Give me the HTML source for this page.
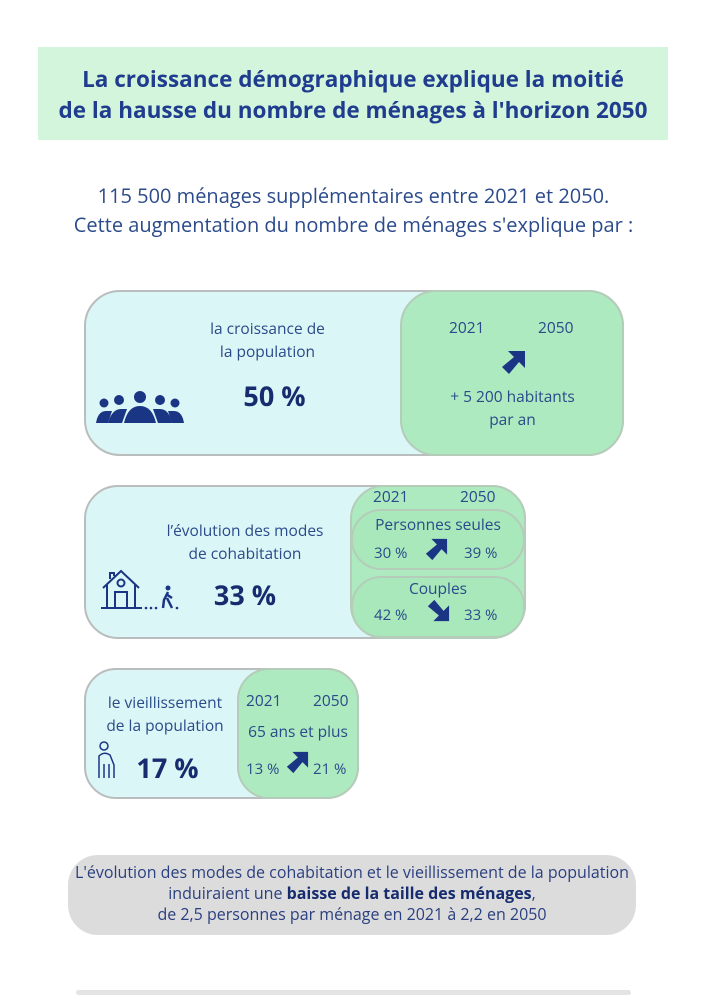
<!DOCTYPE html>
<html><head><meta charset="utf-8"><style>
body{margin:0;width:707px;height:1000px;background:#fff;position:relative;font-family:"Open Sans","Liberation Sans",sans-serif;color:#2a4a8a;overflow:hidden}
.a{position:absolute}
.c{text-align:center}
.card{position:absolute;background:#dbf6f6;border:2px solid #b9bdbd;box-sizing:border-box}
.g{position:absolute;background:#aeeac0;border:2px solid #b4ccb9;box-sizing:border-box}
.big{font-weight:bold;color:#162c6e}
</style></head><body>
<div class="a c" style="left:38px;top:47px;width:630px;height:93px;background:#d3f5dc;color:#1f3c8e;font-weight:bold;font-size:22.5px;line-height:31px;padding-top:16px;box-sizing:border-box;white-space:nowrap">La croissance démographique explique la moitié<br>de la hausse du nombre de ménages à l'horizon 2050</div>
<div class="a c" style="left:0;width:707px;top:181px;font-size:20px;line-height:29px;color:#2a4a8a;white-space:nowrap">115 500 ménages supplémentaires entre 2021 et 2050.<br>Cette augmentation du nombre de ménages s'explique par :</div>

<!-- card1 -->
<div class="card" style="left:84px;top:290px;width:540px;height:166px;border-radius:36px"></div>
<div class="g" style="left:400px;top:290px;width:224px;height:166px;border-radius:36px"></div>
<div class="a c" style="left:185px;top:317px;width:165px;font-size:15.5px;line-height:23px">la croissance de<br>la population</div>
<div class="a c big" style="left:192px;top:377px;width:165px;font-size:27px">50 %</div>
<svg class="a" style="left:94px;top:390px" width="92" height="35" viewBox="0 0 92 35">
<g fill="#1b3585"><circle cx="10" cy="13" r="4.5"/><circle cx="25" cy="10" r="5"/><circle cx="46" cy="7" r="6"/><circle cx="66" cy="10" r="5"/><circle cx="81" cy="13" r="4.5"/>
<path d="M2 33 Q4 21 12 21 L18 21 L14 33Z"/><path d="M14 33 Q18 19 27 19 L33 19 L28 33Z"/><path d="M30 33 Q34 16 46 16 Q58 16 62 33Z"/><path d="M64 33 L59 19 L66 19 Q75 19 78 33Z"/><path d="M78 33 L74 21 L80 21 Q88 21 90 33Z"/></g></svg>
<div class="a" style="left:449px;top:316px;font-size:15.5px">2021</div>
<div class="a" style="left:538px;top:316px;font-size:15.5px">2050</div>
<svg class="a" style="left:500px;top:350px" width="26" height="26" viewBox="0 0 26 26"><path d="M25 1 L25 18 L19 12 L9 24 L2 17 L14 7 L8 1Z" fill="#1b3585"/></svg>
<div class="a c" style="left:425px;top:385px;width:175px;font-size:15.5px;line-height:23px">+ 5 200 habitants<br>par an</div>

<!-- card2 -->
<div class="card" style="left:84px;top:485px;width:442px;height:154px;border-radius:34px"></div>
<div class="g" style="left:350px;top:485px;width:176px;height:154px;border-radius:34px"></div>
<div class="g" style="left:351px;top:509px;width:174px;height:61px;border-radius:30px;background:#a8e8bb"></div>
<div class="g" style="left:351px;top:576px;width:174px;height:62px;border-radius:30px;background:#a8e8bb"></div>
<div class="a" style="left:373px;top:485px;font-size:15.5px">2021</div>
<div class="a" style="left:460px;top:485px;font-size:15.5px">2050</div>
<div class="a c" style="left:351px;top:513px;width:174px;font-size:15.5px">Personnes seules</div>
<div class="a" style="left:374px;top:543px;font-size:15px">30 %</div>
<div class="a" style="left:464px;top:543px;font-size:15px">39 %</div>
<svg class="a" style="left:424px;top:538px" width="24" height="24" viewBox="0 0 26 26"><path d="M25 1 L25 18 L19 12 L9 24 L2 17 L14 7 L8 1Z" fill="#1b3585"/></svg>
<div class="a c" style="left:351px;top:577px;width:174px;font-size:15.5px">Couples</div>
<div class="a" style="left:374px;top:605px;font-size:15px">42 %</div>
<div class="a" style="left:464px;top:605px;font-size:15px">33 %</div>
<svg class="a" style="left:426px;top:598px" width="24" height="24" viewBox="0 0 26 26"><path d="M25 25 L25 8 L19 14 L9 2 L2 9 L14 19 L8 25Z" fill="#1b3585"/></svg>
<div class="a c" style="left:150px;top:519px;width:190px;font-size:15.5px;line-height:23px">l’évolution des modes<br>de cohabitation</div>
<div class="a c big" style="left:190px;top:576px;width:110px;font-size:27px">33 %</div>
<svg class="a" style="left:100px;top:568px" width="82" height="44" viewBox="0 0 82 44"><g fill="none" stroke="#1b3585" stroke-width="2"><path d="M1 40 L42 40"/><path d="M3 20 L21 3 L39 20"/><path d="M7 17 L7 40 M35 17 L35 40"/><rect x="15" y="24" width="12" height="16"/><circle cx="21" cy="15" r="3.5"/><path d="M10 11 L10 5 L14 5 L14 8"/></g><circle cx="68" cy="20" r="2.5" fill="#1b3585"/><path d="M68 24 L64 32 L63 40 M67 30 L72 40 M66 26 L72 30" stroke="#1b3585" stroke-width="2.5" fill="none"/><g fill="#1b3585"><circle cx="46" cy="40" r="1.3"/><circle cx="51" cy="40" r="1.3"/><circle cx="56" cy="40" r="1.3"/><circle cx="77" cy="40" r="1.3"/></g></svg>

<!-- card3 -->
<div class="card" style="left:84px;top:668px;width:275px;height:131px;border-radius:32px"></div>
<div class="g" style="left:237px;top:668px;width:122px;height:131px;border-radius:32px"></div>
<div class="a c" style="left:95px;top:691px;width:140px;font-size:15.5px;line-height:23px">le vieillissement<br>de la population</div>
<div class="a c big" style="left:125px;top:749px;width:85px;font-size:27px">17 %</div>
<svg class="a" style="left:96px;top:740px" width="22" height="40" viewBox="0 0 22 40"><g fill="none" stroke="#1b3585" stroke-width="1.5"><circle cx="8" cy="6" r="4"/><path d="M3 38 L3 16 Q8 11 14 15 L18 25 L18 38 M8 38 L8 24 M13 38 L13 24"/></g></svg>
<div class="a" style="left:246px;top:689px;font-size:15.5px">2021</div>
<div class="a" style="left:313px;top:689px;font-size:15.5px">2050</div>
<div class="a c" style="left:238px;top:720px;width:120px;font-size:15.5px">65 ans et plus</div>
<div class="a" style="left:246px;top:759px;font-size:15px">13 %</div>
<div class="a" style="left:313px;top:759px;font-size:15px">21 %</div>
<svg class="a" style="left:285px;top:751px" width="24" height="24" viewBox="0 0 26 26"><path d="M25 1 L25 18 L19 12 L9 24 L2 17 L14 7 L8 1Z" fill="#1b3585"/></svg>

<div class="a c" style="left:68px;top:855px;width:568px;height:80px;background:#dcdcdc;border-radius:30px;font-size:16px;line-height:21px;padding-top:7px;box-sizing:border-box;color:#2a3f80;white-space:nowrap">L'évolution des modes de cohabitation et le vieillissement de la population<br>induiraient une <b style="color:#162c6e">baisse de la taille des ménages</b>,<br>de 2,5 personnes par ménage en 2021 à 2,2 en 2050</div>
<div class="a" style="left:76px;top:990px;width:555px;height:5px;background:#e4e4e4;border-radius:3px"></div>
</body></html>
